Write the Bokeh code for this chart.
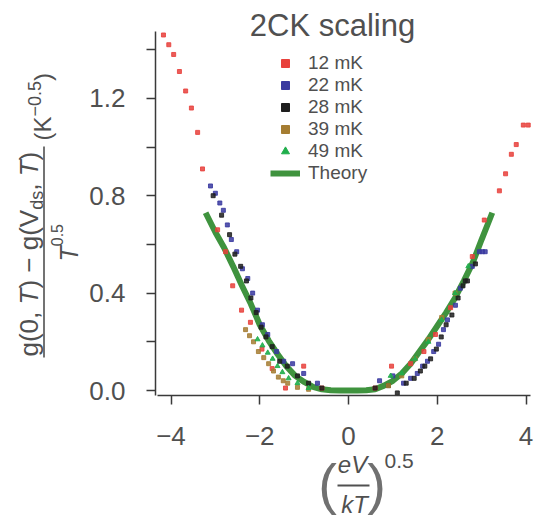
import math
import numpy as np
from bokeh.plotting import figure
from bokeh.models import (Range1d, FixedTicker, Label, Legend, LegendItem,
                          BoxAnnotation, PrintfTickFormatter)
from bokeh.embed import file_html
from bokeh.resources import INLINE

# ---------------- data ----------------
x_12mk = [-4.17, -4.05, -3.94, -3.81, -3.67, -3.54, -3.40, -3.29, -2.95, -2.77, -2.61,
          -2.41, -2.21, -1.95, -1.72, -1.42, -1.01, -0.60, 0.60, 0.97, 1.40, 1.70,
          1.96, 2.30, 2.79, 3.06, 3.40, 3.54, 3.67, 3.78, 3.94, 4.05]
y_12mk = [1.46, 1.42, 1.38, 1.31, 1.23, 1.16, 1.06, 0.91, 0.66, 0.57, 0.43,
          0.33, 0.28, 0.17, 0.09, 0.01, 0.10, 0.01, 0.01, 0.10, 0.11, 0.16,
          0.23, 0.34, 0.55, 0.70, 0.82, 0.89, 0.97, 1.01, 1.09, 1.09]

x_22mk = [-3.11, -3.00, -2.90, -2.82, -2.73, -2.64, -2.52, -2.39, -2.27, -2.16, -2.05,
          -1.94, -1.82, -1.62, -1.46, -1.26, -1.01, -0.70, 0.70, 1.00, 1.24, 1.40,
          1.55, 1.67, 1.78, 1.92, 2.03, 2.14, 2.23, 2.41, 2.52, 2.79, 2.95, 3.02, 3.08]
y_22mk = [0.84, 0.81, 0.77, 0.74, 0.68, 0.62, 0.57, 0.50, 0.46, 0.40, 0.33,
          0.27, 0.23, 0.16, 0.12, 0.11, 0.07, 0.03, 0.04, 0.06, 0.03, 0.05,
          0.07, 0.10, 0.12, 0.16, 0.19, 0.25, 0.29, 0.35, 0.42, 0.51, 0.57, 0.57, 0.57]

x_28mk = [-3.05, -2.86, -2.68, -2.56, -2.43, -2.30, -2.20, -2.08, -1.97, -1.86, -1.72,
          -1.55, -1.38, -1.15, -0.90, -0.60, 0.60, 0.90, 1.10, 1.30, 1.48, 1.62,
          1.72, 1.85, 1.98, 2.09, 2.20, 2.33, 2.47, 2.58, 2.63, 2.68, 2.86]
y_28mk = [0.80, 0.72, 0.64, 0.56, 0.51, 0.45, 0.38, 0.32, 0.26, 0.22, 0.18,
          0.12, 0.10, 0.06, 0.03, 0.01, 0.01, 0.02, -0.01, 0.03, 0.05, 0.08,
          0.10, 0.13, 0.17, 0.22, 0.27, 0.31, 0.38, 0.43, 0.45, 0.45, 0.52]

x_39mk = [-2.32, -2.23, -2.14, -2.03, -1.91, -1.80, -1.69, -1.58, -1.47, -1.37, -1.15,
          -0.90, 0.90, 1.20, 1.50, 1.80, 2.10, 2.40]
y_39mk = [0.25, 0.225, 0.20, 0.16, 0.135, 0.11, 0.08, 0.055, 0.04, 0.03, 0.013,
          0.005, 0.02, 0.06, 0.13, 0.21, 0.30, 0.40]

x_49mk = [-2.05, -1.94, -1.82, -1.71, -1.60, -1.49, -1.35, -1.15, -0.90, 0.95, 1.20,
          1.50, 1.80, 2.10, 2.40, 2.70]
y_49mk = [0.21, 0.185, 0.155, 0.13, 0.10, 0.075, 0.05, 0.03, 0.01, 0.06, 0.07,
          0.13, 0.20, 0.29, 0.40, 0.51]

theory_x = [-3.22, -3.0, -2.8, -2.6, -2.4, -2.2, -2.0, -1.8, -1.6, -1.4, -1.2, -1.0,
            -0.8, -0.6, -0.4, -0.2, 0.0, 0.2, 0.4, 0.6, 0.8, 1.0, 1.2, 1.4, 1.6,
            1.8, 2.0, 2.2, 2.4, 2.6, 2.8, 3.0, 3.24]
theory_y = [0.73, 0.65, 0.585, 0.51, 0.43, 0.355, 0.27, 0.205, 0.15, 0.10, 0.06, 0.035,
            0.015, 0.005, 0.001, 0.0, 0.0, 0.0, 0.001, 0.005, 0.02, 0.04, 0.07, 0.11, 0.16,
            0.21, 0.265, 0.32, 0.38, 0.45, 0.525, 0.62, 0.73]

series_labels = ["12 mK", "22 mK", "28 mK", "39 mK", "49 mK"]
theory_label = "Theory"
title_text = "2CK scaling"
x_ticks = [-4, -2, 0, 2, 4]
y_ticks = [0.0, 0.4, 0.8, 1.2]
y_minor_ticks = [0.2, 0.6, 1.0, 1.4]

# ---------------- geometry: the frame fills the whole canvas ----------------
WIDTH, HEIGHT = 537, 522
X0_PX, SX = 348.0, 44.375     # page px of x=0, px per x unit
Y0_PX, SY = 390.0, 243.5      # page px of y=0, px per y unit


def dx(px):
    return (px - X0_PX) / SX


def dy(py):
    return (Y0_PX - py) / SY


FONT = "Liberation Sans"
GREY = "#505050"
AX = "#3a3a3a"
C_RED, C_BLUE, C_BLACK, C_BROWN, C_TRI, C_THEORY = (
    "#e8413c", "#3a3aa0", "#1e1e1e", "#a57d32", "#1fae4b", "#3f933e")

p = figure(width=WIDTH, height=HEIGHT, output_backend="svg", toolbar_location=None,
           x_range=Range1d(dx(0), dx(WIDTH)), y_range=Range1d(dy(HEIGHT), dy(0)),
           min_border=0, outline_line_color=None)
p.grid.visible = False
p.background_fill_color = "white"

theory_r = p.line(theory_x, theory_y, line_width=6, color=C_THEORY)
p.scatter(x_12mk, y_12mk, marker="square", size=4, color=C_RED, alpha=0.85)
p.scatter(x_22mk, y_22mk, marker="square", size=4, color=C_BLUE, alpha=0.85)
p.scatter(x_28mk, y_28mk, marker="square", size=4, color=C_BLACK, alpha=0.85)
p.scatter(x_39mk, y_39mk, marker="square", size=4, color=C_BROWN, alpha=0.85)
p.scatter(x_49mk, y_49mk, marker="triangle", size=5, color=C_TRI, alpha=0.9)

# legend proxies (bigger markers, no visible data)
nan = np.array([np.nan])
proxies = []
for c, m, s in [(C_RED, "square", 9), (C_BLUE, "square", 9), (C_BLACK, "square", 9),
                (C_BROWN, "square", 9), (C_TRI, "triangle", 10)]:
    proxies.append(p.scatter(nan, nan, marker=m, size=s, color=c))

items = [LegendItem(label=l, renderers=[r]) for l, r in zip(series_labels, proxies)]
items.append(LegendItem(label=theory_label, renderers=[theory_r]))
legend = Legend(items=items, location=(270, HEIGHT - 184), padding=0, margin=0, spacing=0,
                glyph_width=30, glyph_height=20, label_height=20, label_standoff=8,
                border_line_color=None, background_fill_alpha=0,
                label_text_font=FONT, label_text_font_size="19px",
                label_text_color=GREY, label_text_line_height=1.0)
p.add_layout(legend)

# axes, drawn at fixed places inside the full-canvas frame
xa, ya = p.xaxis[0], p.yaxis[0]
xa.fixed_location = dy(395)
xa.bounds = (dx(157), dx(530))
ya.fixed_location = dx(155)
ya.bounds = (dy(395), dy(31))
xa.ticker = FixedTicker(ticks=x_ticks, minor_ticks=[])
xa.major_label_overrides = {t: ("\u2212%d" % -t if t < 0 else "%d" % t) for t in x_ticks}
ya.ticker = FixedTicker(ticks=y_ticks, minor_ticks=y_minor_ticks)
ya.formatter = PrintfTickFormatter(format="%.1f")
for ax in (xa, ya):
    ax.axis_line_color = AX
    ax.axis_line_width = 1.5
    ax.major_tick_line_color = AX
    ax.major_tick_line_width = 1.5
    ax.minor_tick_line_color = AX
    ax.minor_tick_line_width = 1.5
    ax.major_tick_in = 0
    ax.major_tick_out = 9
    ax.minor_tick_in = 0
    ax.minor_tick_out = 9
    ax.major_label_text_font = FONT
    ax.major_label_text_font_size = "26px"
    ax.major_label_text_color = GREY
ya.major_label_standoff = 21
xa.major_label_standoff = 22

# ---------------- text helpers (page px -> data coords) ----------------
W = {'g': 556, '(': 333, ')': 333, '0': 556, ',': 278, ' ': 278, 'T': 611, '\u2212': 584,
     'V': 667, 'd': 556, 's': 500, 'e': 556, 'k': 500, 'K': 667, '.': 278, '5': 556}
K_BASE = 0.3   # empirical shift: rendered baseline sits ~0.3 em below the anchor


def tw(s, size):
    return sum(W[c] for c in s) * size / 1000.0


def lab(text, px, py, size, angle=0.0, align="left", style="normal", color=GREY):
    # px, py: wanted baseline position (page px); compensate the renderer's offset
    if angle:
        px = px - K_BASE * size
    else:
        py = py - K_BASE * size
    p.add_layout(Label(x=dx(px), y=dy(py), text=text, angle=angle, text_align=align,
                       text_baseline="alphabetic", text_font=FONT,
                       text_font_size="%gpx" % size, text_font_style=style,
                       text_color=color))


def box(x0, x1, y0, y1):
    p.add_layout(BoxAnnotation(left=dx(x0), right=dx(x1), top=dy(y0), bottom=dy(y1),
                               fill_color=GREY, fill_alpha=1, line_color=None,
                               level="overlay"))


# title
lab(title_text, 332, 34, 31, align="center")

# y-axis label: rotated fraction
R = math.pi / 2
F = 26
ypos = 356.0
for txt, style, size, shift in [("g(0, ", "normal", F, 0), ("T", "italic", F, 0),
                                (") \u2212 g(V", "normal", F, 0), ("ds", "normal", 18, 6),
                                (", ", "normal", F, 0), ("T", "italic", F, 0),
                                (")", "normal", F, 0)]:
    lab(txt, 36 + shift, ypos, size, angle=R, style=style)
    ypos -= tw(txt, size)
box(42.7, 44.3, 146, 357)
lab("T", 76, 261, 25, angle=R, style="italic")
lab("0.5", 61, 261 - tw("T", 25), 16, angle=R)
ypos = 140.0
for txt, size, shift in [("(K", 24, 0), ("\u22120.5", 18, -10), (")", 24, 0)]:
    lab(txt, 49 + shift, ypos, size, angle=R)
    ypos -= tw(txt, size)

# x-axis label: (eV/kT)^0.5
lab("eV", 352, 471, 24, align="center", style="italic")
box(337, 369, 484, 486)
lab("kT", 354, 511, 24, align="center", style="italic")
lab("(", 327, 500, 56, align="center", color="#707070")
lab(")", 376, 500, 56, align="center", color="#707070")
lab("0.5", 384, 467, 21)

open("out.html", "w").write(file_html(p, INLINE))
